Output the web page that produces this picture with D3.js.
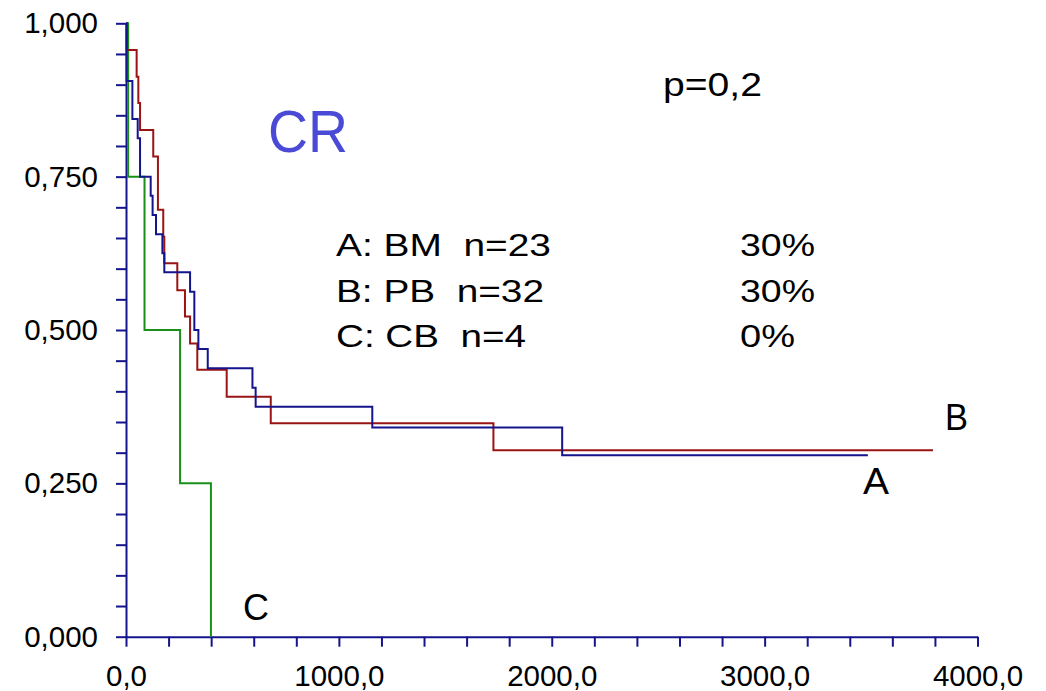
<!DOCTYPE html>
<html>
<head>
<meta charset="utf-8">
<script src="https://cdn.jsdelivr.net/npm/d3@7"></script>
<style>
  body { margin: 0; background: #fff; }
  svg { display: block; font-family: "Liberation Sans", Arial, sans-serif; }
</style>
</head>
<body>
<div id="chart"></div>
<script>
// Kaplan-Meier steps: [time, survival after the drop]
const seriesA = [[3, 0.9565], [50, 0.913], [58, 0.870], [66, 0.826], [128, 0.783], [150, 0.696],
  [175, 0.652], [180, 0.609], [241, 0.565], [277, 0.522], [301, 0.478], [335, 0.435],
  [473, 0.391], [680, 0.348], [1726, 0.304]]
const endA = 3791
const seriesB = [[3, 0.906], [30, 0.844], [55, 0.8125], [66, 0.75], [116, 0.719], [125, 0.6875],
  [141, 0.656], [171, 0.625], [180, 0.594], [301, 0.5625], [321, 0.5], [340, 0.469],
  [384, 0.4375], [594, 0.406], [609, 0.375], [1157, 0.341], [2049, 0.296]]
const endB = 3485
const seriesC = [[10, 0.75], [87, 0.5], [254, 0.25], [399, 0]]
const endC = 399

const yMajor = [0, 0.25, 0.5, 0.75, 1]
const xMajor = [0, 1000, 2000, 3000, 4000]
const legendRows = ["A: BM  n=23", "B: PB  n=32", "C: CB  n=4"]
const legendPct = ["30%", "30%", "0%"]

const width = 1046, height = 691
const axisColor = "#14148c"

const x = d3.scaleLinear().domain([0, 4000]).range([126, 977.5])
const y = d3.scaleLinear().domain([0, 1]).range([636.7, 23.3])

const svg = d3.select("#chart").append("svg")
  .attr("width", width)
  .attr("height", height)

const comma = s => s.replace(".", ",")

// Y axis: minor ticks every 0,05, labels only on the majors
const yAxis = d3.axisLeft(y)
  .tickValues(d3.range(0, 1.0001, 0.05))
  .tickSize(10)
  .tickSizeOuter(0)
  .tickPadding(18)
  .tickFormat(d => yMajor.some(m => Math.abs(m - d) < 1e-6) ? comma(d3.format(".3f")(d)) : "")

svg.append("g")
  .attr("transform", "translate(" + x(0) + ",0)")
  .call(yAxis)

// X axis: minor ticks every 200
const xAxis = d3.axisBottom(x)
  .tickValues(d3.range(0, 4001, 200))
  .tickSize(10)
  .tickSizeOuter(0)
  .tickPadding(18)
  .tickFormat(d => xMajor.includes(d) ? comma(d3.format(".1f")(d)) : "")

svg.append("g")
  .attr("transform", "translate(0," + y(0) + ")")
  .call(xAxis)

svg.selectAll(".domain, .tick line")
  .attr("stroke", axisColor)
  .attr("stroke-width", 2)
svg.selectAll(".tick text")
  .attr("fill", "#000")
  .style("font-size", "29.5px")
  .style("font-family", "'Liberation Sans', Arial, sans-serif")

// survival curves
const line = d3.line()
  .x(d => x(d[0]))
  .y(d => y(d[1]))
  .curve(d3.curveStepAfter)

const curves = [
  {steps: seriesC, end: endC, color: "#1a901a"},
  {steps: seriesA, end: endA, color: "#9a1414"},
  {steps: seriesB, end: endB, color: "#14148c"}
]

curves.forEach(function (c) {
  let pts = [[0, 1]].concat(c.steps)
  pts.push([c.end, c.steps[c.steps.length - 1][1]])
  svg.append("path")
    .datum(pts)
    .attr("fill", "none")
    .attr("stroke", c.color)
    .attr("stroke-width", 2)
    .attr("d", line)
})

// annotations
const addText = (txt, px, py, size, len, color) => {
  svg.append("text")
    .attr("x", px)
    .attr("y", py)
    .attr("fill", color || "#000")
    .attr("textLength", len)
    .attr("lengthAdjust", "spacingAndGlyphs")
    .style("font-size", size + "px")
    .style("white-space", "pre")
    .text(txt)
}

addText("CR", 268, 152, 60, 80, "#4a4ad6")
addText("p=0,2", 663, 96, 33, 99)

legendRows.forEach(function (t, i) {
  let lens = [215, 208, 190]
  addText(t, 336, 256 + i * 45.5, 31, lens[i])
  addText(legendPct[i], 740, 256 + i * 45.5, 31, legendPct[i].length === 3 ? 75 : 55)
})

addText("B", 945, 430, 37, 23)
addText("A", 863, 494, 37, 26)
addText("C", 243, 620, 37, 26)
</script>
</body>
</html>
